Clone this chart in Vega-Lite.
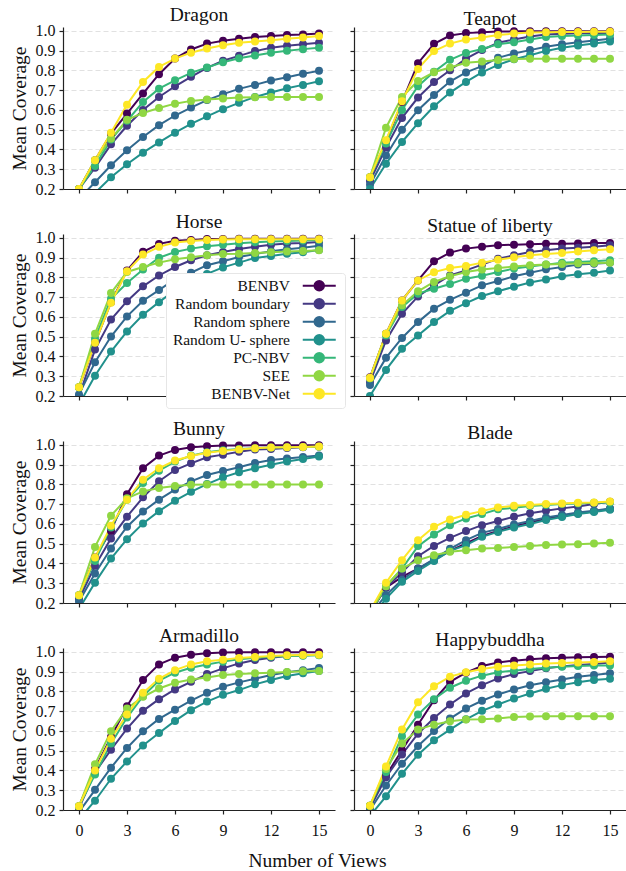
{
"$schema": "https://vega.github.io/schema/vega-lite/v6.json",
"background": "white",
"padding": {"left": 8, "top": 4, "right": 0, "bottom": 0},
"bounds": "flush",
"columns": 2,
"spacing": {"row": 45, "column": 19},
"title": {"text": "Number of Views", "orient": "bottom", "anchor": "middle", "frame": "bounds", "font": "Liberation Serif", "fontSize": 19.5, "fontWeight": "normal", "color": "#111", "offset": 14},
"datasets": {"d": [
{"m":"Dragon","s":"BENBV","x":0,"y":0.2},{"m":"Dragon","s":"BENBV","x":1,"y":0.345},{"m":"Dragon","s":"BENBV","x":2,"y":0.48},{"m":"Dragon","s":"BENBV","x":3,"y":0.582},{"m":"Dragon","s":"BENBV","x":4,"y":0.683},{"m":"Dragon","s":"BENBV","x":5,"y":0.781},{"m":"Dragon","s":"BENBV","x":6,"y":0.86},{"m":"Dragon","s":"BENBV","x":7,"y":0.906},{"m":"Dragon","s":"BENBV","x":8,"y":0.936},{"m":"Dragon","s":"BENBV","x":9,"y":0.95},{"m":"Dragon","s":"BENBV","x":10,"y":0.96},{"m":"Dragon","s":"BENBV","x":11,"y":0.969},{"m":"Dragon","s":"BENBV","x":12,"y":0.974},{"m":"Dragon","s":"BENBV","x":13,"y":0.979},{"m":"Dragon","s":"BENBV","x":14,"y":0.982},{"m":"Dragon","s":"BENBV","x":15,"y":0.987},
{"m":"Dragon","s":"Random boundary","x":0,"y":0.2},{"m":"Dragon","s":"Random boundary","x":1,"y":0.308},{"m":"Dragon","s":"Random boundary","x":2,"y":0.426},{"m":"Dragon","s":"Random boundary","x":3,"y":0.52},{"m":"Dragon","s":"Random boundary","x":4,"y":0.6},{"m":"Dragon","s":"Random boundary","x":5,"y":0.666},{"m":"Dragon","s":"Random boundary","x":6,"y":0.72},{"m":"Dragon","s":"Random boundary","x":7,"y":0.768},{"m":"Dragon","s":"Random boundary","x":8,"y":0.813},{"m":"Dragon","s":"Random boundary","x":9,"y":0.849},{"m":"Dragon","s":"Random boundary","x":10,"y":0.874},{"m":"Dragon","s":"Random boundary","x":11,"y":0.898},{"m":"Dragon","s":"Random boundary","x":12,"y":0.915},{"m":"Dragon","s":"Random boundary","x":13,"y":0.925},{"m":"Dragon","s":"Random boundary","x":14,"y":0.933},{"m":"Dragon","s":"Random boundary","x":15,"y":0.94},
{"m":"Dragon","s":"Random sphere","x":0,"y":0.15},{"m":"Dragon","s":"Random sphere","x":1,"y":0.234},{"m":"Dragon","s":"Random sphere","x":2,"y":0.32},{"m":"Dragon","s":"Random sphere","x":3,"y":0.396},{"m":"Dragon","s":"Random sphere","x":4,"y":0.463},{"m":"Dragon","s":"Random sphere","x":5,"y":0.523},{"m":"Dragon","s":"Random sphere","x":6,"y":0.572},{"m":"Dragon","s":"Random sphere","x":7,"y":0.612},{"m":"Dragon","s":"Random sphere","x":8,"y":0.65},{"m":"Dragon","s":"Random sphere","x":9,"y":0.68},{"m":"Dragon","s":"Random sphere","x":10,"y":0.707},{"m":"Dragon","s":"Random sphere","x":11,"y":0.727},{"m":"Dragon","s":"Random sphere","x":12,"y":0.749},{"m":"Dragon","s":"Random sphere","x":13,"y":0.766},{"m":"Dragon","s":"Random sphere","x":14,"y":0.783},{"m":"Dragon","s":"Random sphere","x":15,"y":0.798},
{"m":"Dragon","s":"Random U- sphere","x":0,"y":0.1},{"m":"Dragon","s":"Random U- sphere","x":1,"y":0.18},{"m":"Dragon","s":"Random U- sphere","x":2,"y":0.259},{"m":"Dragon","s":"Random U- sphere","x":3,"y":0.325},{"m":"Dragon","s":"Random U- sphere","x":4,"y":0.384},{"m":"Dragon","s":"Random U- sphere","x":5,"y":0.436},{"m":"Dragon","s":"Random U- sphere","x":6,"y":0.485},{"m":"Dragon","s":"Random U- sphere","x":7,"y":0.53},{"m":"Dragon","s":"Random U- sphere","x":8,"y":0.568},{"m":"Dragon","s":"Random U- sphere","x":9,"y":0.604},{"m":"Dragon","s":"Random U- sphere","x":10,"y":0.636},{"m":"Dragon","s":"Random U- sphere","x":11,"y":0.666},{"m":"Dragon","s":"Random U- sphere","x":12,"y":0.688},{"m":"Dragon","s":"Random U- sphere","x":13,"y":0.71},{"m":"Dragon","s":"Random U- sphere","x":14,"y":0.727},{"m":"Dragon","s":"Random U- sphere","x":15,"y":0.745},
{"m":"Dragon","s":"PC-NBV","x":0,"y":0.2},{"m":"Dragon","s":"PC-NBV","x":1,"y":0.317},{"m":"Dragon","s":"PC-NBV","x":2,"y":0.45},{"m":"Dragon","s":"PC-NBV","x":3,"y":0.545},{"m":"Dragon","s":"PC-NBV","x":4,"y":0.64},{"m":"Dragon","s":"PC-NBV","x":5,"y":0.708},{"m":"Dragon","s":"PC-NBV","x":6,"y":0.75},{"m":"Dragon","s":"PC-NBV","x":7,"y":0.788},{"m":"Dragon","s":"PC-NBV","x":8,"y":0.815},{"m":"Dragon","s":"PC-NBV","x":9,"y":0.842},{"m":"Dragon","s":"PC-NBV","x":10,"y":0.862},{"m":"Dragon","s":"PC-NBV","x":11,"y":0.876},{"m":"Dragon","s":"PC-NBV","x":12,"y":0.89},{"m":"Dragon","s":"PC-NBV","x":13,"y":0.9},{"m":"Dragon","s":"PC-NBV","x":14,"y":0.908},{"m":"Dragon","s":"PC-NBV","x":15,"y":0.915},
{"m":"Dragon","s":"SEE","x":0,"y":0.2},{"m":"Dragon","s":"SEE","x":1,"y":0.345},{"m":"Dragon","s":"SEE","x":2,"y":0.455},{"m":"Dragon","s":"SEE","x":3,"y":0.55},{"m":"Dragon","s":"SEE","x":4,"y":0.585},{"m":"Dragon","s":"SEE","x":5,"y":0.61},{"m":"Dragon","s":"SEE","x":6,"y":0.632},{"m":"Dragon","s":"SEE","x":7,"y":0.646},{"m":"Dragon","s":"SEE","x":8,"y":0.653},{"m":"Dragon","s":"SEE","x":9,"y":0.658},{"m":"Dragon","s":"SEE","x":10,"y":0.663},{"m":"Dragon","s":"SEE","x":11,"y":0.665},{"m":"Dragon","s":"SEE","x":12,"y":0.666},{"m":"Dragon","s":"SEE","x":13,"y":0.666},{"m":"Dragon","s":"SEE","x":14,"y":0.666},{"m":"Dragon","s":"SEE","x":15,"y":0.666},
{"m":"Dragon","s":"BENBV-Net","x":0,"y":0.2},{"m":"Dragon","s":"BENBV-Net","x":1,"y":0.345},{"m":"Dragon","s":"BENBV-Net","x":2,"y":0.485},{"m":"Dragon","s":"BENBV-Net","x":3,"y":0.627},{"m":"Dragon","s":"BENBV-Net","x":4,"y":0.742},{"m":"Dragon","s":"BENBV-Net","x":5,"y":0.818},{"m":"Dragon","s":"BENBV-Net","x":6,"y":0.86},{"m":"Dragon","s":"BENBV-Net","x":7,"y":0.89},{"m":"Dragon","s":"BENBV-Net","x":8,"y":0.911},{"m":"Dragon","s":"BENBV-Net","x":9,"y":0.928},{"m":"Dragon","s":"BENBV-Net","x":10,"y":0.94},{"m":"Dragon","s":"BENBV-Net","x":11,"y":0.947},{"m":"Dragon","s":"BENBV-Net","x":12,"y":0.953},{"m":"Dragon","s":"BENBV-Net","x":13,"y":0.96},{"m":"Dragon","s":"BENBV-Net","x":14,"y":0.967},{"m":"Dragon","s":"BENBV-Net","x":15,"y":0.974},

{"m":"Teapot","s":"BENBV","x":0,"y":0.26},{"m":"Teapot","s":"BENBV","x":1,"y":0.44},{"m":"Teapot","s":"BENBV","x":2,"y":0.64},{"m":"Teapot","s":"BENBV","x":3,"y":0.837},{"m":"Teapot","s":"BENBV","x":4,"y":0.935},{"m":"Teapot","s":"BENBV","x":5,"y":0.977},{"m":"Teapot","s":"BENBV","x":6,"y":0.989},{"m":"Teapot","s":"BENBV","x":7,"y":0.994},{"m":"Teapot","s":"BENBV","x":8,"y":0.997},{"m":"Teapot","s":"BENBV","x":9,"y":0.998},{"m":"Teapot","s":"BENBV","x":10,"y":0.998},{"m":"Teapot","s":"BENBV","x":11,"y":0.998},{"m":"Teapot","s":"BENBV","x":12,"y":0.999},{"m":"Teapot","s":"BENBV","x":13,"y":0.999},{"m":"Teapot","s":"BENBV","x":14,"y":0.999},{"m":"Teapot","s":"BENBV","x":15,"y":0.999},
{"m":"Teapot","s":"Random boundary","x":0,"y":0.24},{"m":"Teapot","s":"Random boundary","x":1,"y":0.41},{"m":"Teapot","s":"Random boundary","x":2,"y":0.56},{"m":"Teapot","s":"Random boundary","x":3,"y":0.663},{"m":"Teapot","s":"Random boundary","x":4,"y":0.742},{"m":"Teapot","s":"Random boundary","x":5,"y":0.801},{"m":"Teapot","s":"Random boundary","x":6,"y":0.86},{"m":"Teapot","s":"Random boundary","x":7,"y":0.903},{"m":"Teapot","s":"Random boundary","x":8,"y":0.94},{"m":"Teapot","s":"Random boundary","x":9,"y":0.957},{"m":"Teapot","s":"Random boundary","x":10,"y":0.972},{"m":"Teapot","s":"Random boundary","x":11,"y":0.982},{"m":"Teapot","s":"Random boundary","x":12,"y":0.986},{"m":"Teapot","s":"Random boundary","x":13,"y":0.988},{"m":"Teapot","s":"Random boundary","x":14,"y":0.99},{"m":"Teapot","s":"Random boundary","x":15,"y":0.99},
{"m":"Teapot","s":"Random sphere","x":0,"y":0.222},{"m":"Teapot","s":"Random sphere","x":1,"y":0.37},{"m":"Teapot","s":"Random sphere","x":2,"y":0.5},{"m":"Teapot","s":"Random sphere","x":3,"y":0.599},{"m":"Teapot","s":"Random sphere","x":4,"y":0.676},{"m":"Teapot","s":"Random sphere","x":5,"y":0.744},{"m":"Teapot","s":"Random sphere","x":6,"y":0.79},{"m":"Teapot","s":"Random sphere","x":7,"y":0.822},{"m":"Teapot","s":"Random sphere","x":8,"y":0.864},{"m":"Teapot","s":"Random sphere","x":9,"y":0.886},{"m":"Teapot","s":"Random sphere","x":10,"y":0.903},{"m":"Teapot","s":"Random sphere","x":11,"y":0.92},{"m":"Teapot","s":"Random sphere","x":12,"y":0.933},{"m":"Teapot","s":"Random sphere","x":13,"y":0.943},{"m":"Teapot","s":"Random sphere","x":14,"y":0.952},{"m":"Teapot","s":"Random sphere","x":15,"y":0.96},
{"m":"Teapot","s":"Random U- sphere","x":0,"y":0.2},{"m":"Teapot","s":"Random U- sphere","x":1,"y":0.328},{"m":"Teapot","s":"Random U- sphere","x":2,"y":0.438},{"m":"Teapot","s":"Random U- sphere","x":3,"y":0.533},{"m":"Teapot","s":"Random U- sphere","x":4,"y":0.619},{"m":"Teapot","s":"Random U- sphere","x":5,"y":0.688},{"m":"Teapot","s":"Random U- sphere","x":6,"y":0.742},{"m":"Teapot","s":"Random U- sphere","x":7,"y":0.79},{"m":"Teapot","s":"Random U- sphere","x":8,"y":0.828},{"m":"Teapot","s":"Random U- sphere","x":9,"y":0.857},{"m":"Teapot","s":"Random U- sphere","x":10,"y":0.877},{"m":"Teapot","s":"Random U- sphere","x":11,"y":0.899},{"m":"Teapot","s":"Random U- sphere","x":12,"y":0.915},{"m":"Teapot","s":"Random U- sphere","x":13,"y":0.926},{"m":"Teapot","s":"Random U- sphere","x":14,"y":0.936},{"m":"Teapot","s":"Random U- sphere","x":15,"y":0.947},
{"m":"Teapot","s":"PC-NBV","x":0,"y":0.26},{"m":"Teapot","s":"PC-NBV","x":1,"y":0.43},{"m":"Teapot","s":"PC-NBV","x":2,"y":0.6},{"m":"Teapot","s":"PC-NBV","x":3,"y":0.72},{"m":"Teapot","s":"PC-NBV","x":4,"y":0.793},{"m":"Teapot","s":"PC-NBV","x":5,"y":0.854},{"m":"Teapot","s":"PC-NBV","x":6,"y":0.889},{"m":"Teapot","s":"PC-NBV","x":7,"y":0.909},{"m":"Teapot","s":"PC-NBV","x":8,"y":0.933},{"m":"Teapot","s":"PC-NBV","x":9,"y":0.943},{"m":"Teapot","s":"PC-NBV","x":10,"y":0.957},{"m":"Teapot","s":"PC-NBV","x":11,"y":0.969},{"m":"Teapot","s":"PC-NBV","x":12,"y":0.974},{"m":"Teapot","s":"PC-NBV","x":13,"y":0.977},{"m":"Teapot","s":"PC-NBV","x":14,"y":0.98},{"m":"Teapot","s":"PC-NBV","x":15,"y":0.982},
{"m":"Teapot","s":"SEE","x":0,"y":0.26},{"m":"Teapot","s":"SEE","x":1,"y":0.51},{"m":"Teapot","s":"SEE","x":2,"y":0.666},{"m":"Teapot","s":"SEE","x":3,"y":0.747},{"m":"Teapot","s":"SEE","x":4,"y":0.791},{"m":"Teapot","s":"SEE","x":5,"y":0.815},{"m":"Teapot","s":"SEE","x":6,"y":0.839},{"m":"Teapot","s":"SEE","x":7,"y":0.845},{"m":"Teapot","s":"SEE","x":8,"y":0.853},{"m":"Teapot","s":"SEE","x":9,"y":0.858},{"m":"Teapot","s":"SEE","x":10,"y":0.859},{"m":"Teapot","s":"SEE","x":11,"y":0.859},{"m":"Teapot","s":"SEE","x":12,"y":0.859},{"m":"Teapot","s":"SEE","x":13,"y":0.859},{"m":"Teapot","s":"SEE","x":14,"y":0.859},{"m":"Teapot","s":"SEE","x":15,"y":0.859},
{"m":"Teapot","s":"BENBV-Net","x":0,"y":0.26},{"m":"Teapot","s":"BENBV-Net","x":1,"y":0.447},{"m":"Teapot","s":"BENBV-Net","x":2,"y":0.644},{"m":"Teapot","s":"BENBV-Net","x":3,"y":0.808},{"m":"Teapot","s":"BENBV-Net","x":4,"y":0.898},{"m":"Teapot","s":"BENBV-Net","x":5,"y":0.936},{"m":"Teapot","s":"BENBV-Net","x":6,"y":0.957},{"m":"Teapot","s":"BENBV-Net","x":7,"y":0.967},{"m":"Teapot","s":"BENBV-Net","x":8,"y":0.979},{"m":"Teapot","s":"BENBV-Net","x":9,"y":0.987},{"m":"Teapot","s":"BENBV-Net","x":10,"y":0.992},{"m":"Teapot","s":"BENBV-Net","x":11,"y":0.994},{"m":"Teapot","s":"BENBV-Net","x":12,"y":0.995},{"m":"Teapot","s":"BENBV-Net","x":13,"y":0.995},{"m":"Teapot","s":"BENBV-Net","x":14,"y":0.996},{"m":"Teapot","s":"BENBV-Net","x":15,"y":0.996},

{"m":"Horse","s":"BENBV","x":0,"y":0.244},{"m":"Horse","s":"BENBV","x":1,"y":0.469},{"m":"Horse","s":"BENBV","x":2,"y":0.675},{"m":"Horse","s":"BENBV","x":3,"y":0.835},{"m":"Horse","s":"BENBV","x":4,"y":0.93},{"m":"Horse","s":"BENBV","x":5,"y":0.97},{"m":"Horse","s":"BENBV","x":6,"y":0.986},{"m":"Horse","s":"BENBV","x":7,"y":0.99},{"m":"Horse","s":"BENBV","x":8,"y":0.995},{"m":"Horse","s":"BENBV","x":9,"y":0.995},{"m":"Horse","s":"BENBV","x":10,"y":0.996},{"m":"Horse","s":"BENBV","x":11,"y":0.996},{"m":"Horse","s":"BENBV","x":12,"y":0.996},{"m":"Horse","s":"BENBV","x":13,"y":0.996},{"m":"Horse","s":"BENBV","x":14,"y":0.996},{"m":"Horse","s":"BENBV","x":15,"y":0.996},
{"m":"Horse","s":"Random boundary","x":0,"y":0.2},{"m":"Horse","s":"Random boundary","x":1,"y":0.435},{"m":"Horse","s":"Random boundary","x":2,"y":0.587},{"m":"Horse","s":"Random boundary","x":3,"y":0.68},{"m":"Horse","s":"Random boundary","x":4,"y":0.755},{"m":"Horse","s":"Random boundary","x":5,"y":0.81},{"m":"Horse","s":"Random boundary","x":6,"y":0.853},{"m":"Horse","s":"Random boundary","x":7,"y":0.887},{"m":"Horse","s":"Random boundary","x":8,"y":0.912},{"m":"Horse","s":"Random boundary","x":9,"y":0.929},{"m":"Horse","s":"Random boundary","x":10,"y":0.944},{"m":"Horse","s":"Random boundary","x":11,"y":0.956},{"m":"Horse","s":"Random boundary","x":12,"y":0.965},{"m":"Horse","s":"Random boundary","x":13,"y":0.972},{"m":"Horse","s":"Random boundary","x":14,"y":0.975},{"m":"Horse","s":"Random boundary","x":15,"y":0.98},
{"m":"Horse","s":"Random sphere","x":0,"y":0.208},{"m":"Horse","s":"Random sphere","x":1,"y":0.371},{"m":"Horse","s":"Random sphere","x":2,"y":0.501},{"m":"Horse","s":"Random sphere","x":3,"y":0.603},{"m":"Horse","s":"Random sphere","x":4,"y":0.682},{"m":"Horse","s":"Random sphere","x":5,"y":0.736},{"m":"Horse","s":"Random sphere","x":6,"y":0.792},{"m":"Horse","s":"Random sphere","x":7,"y":0.824},{"m":"Horse","s":"Random sphere","x":8,"y":0.862},{"m":"Horse","s":"Random sphere","x":9,"y":0.882},{"m":"Horse","s":"Random sphere","x":10,"y":0.904},{"m":"Horse","s":"Random sphere","x":11,"y":0.919},{"m":"Horse","s":"Random sphere","x":12,"y":0.933},{"m":"Horse","s":"Random sphere","x":13,"y":0.943},{"m":"Horse","s":"Random sphere","x":14,"y":0.95},{"m":"Horse","s":"Random sphere","x":15,"y":0.96},
{"m":"Horse","s":"Random U- sphere","x":0,"y":0.156},{"m":"Horse","s":"Random U- sphere","x":1,"y":0.303},{"m":"Horse","s":"Random U- sphere","x":2,"y":0.425},{"m":"Horse","s":"Random U- sphere","x":3,"y":0.527},{"m":"Horse","s":"Random U- sphere","x":4,"y":0.611},{"m":"Horse","s":"Random U- sphere","x":5,"y":0.675},{"m":"Horse","s":"Random U- sphere","x":6,"y":0.736},{"m":"Horse","s":"Random U- sphere","x":7,"y":0.779},{"m":"Horse","s":"Random U- sphere","x":8,"y":0.818},{"m":"Horse","s":"Random U- sphere","x":9,"y":0.851},{"m":"Horse","s":"Random U- sphere","x":10,"y":0.875},{"m":"Horse","s":"Random U- sphere","x":11,"y":0.899},{"m":"Horse","s":"Random U- sphere","x":12,"y":0.909},{"m":"Horse","s":"Random U- sphere","x":13,"y":0.92},{"m":"Horse","s":"Random U- sphere","x":14,"y":0.928},{"m":"Horse","s":"Random U- sphere","x":15,"y":0.939},
{"m":"Horse","s":"PC-NBV","x":0,"y":0.244},{"m":"Horse","s":"PC-NBV","x":1,"y":0.49},{"m":"Horse","s":"PC-NBV","x":2,"y":0.692},{"m":"Horse","s":"PC-NBV","x":3,"y":0.772},{"m":"Horse","s":"PC-NBV","x":4,"y":0.84},{"m":"Horse","s":"PC-NBV","x":5,"y":0.9},{"m":"Horse","s":"PC-NBV","x":6,"y":0.929},{"m":"Horse","s":"PC-NBV","x":7,"y":0.946},{"m":"Horse","s":"PC-NBV","x":8,"y":0.958},{"m":"Horse","s":"PC-NBV","x":9,"y":0.966},{"m":"Horse","s":"PC-NBV","x":10,"y":0.973},{"m":"Horse","s":"PC-NBV","x":11,"y":0.978},{"m":"Horse","s":"PC-NBV","x":12,"y":0.982},{"m":"Horse","s":"PC-NBV","x":13,"y":0.985},{"m":"Horse","s":"PC-NBV","x":14,"y":0.987},{"m":"Horse","s":"PC-NBV","x":15,"y":0.989},
{"m":"Horse","s":"SEE","x":0,"y":0.244},{"m":"Horse","s":"SEE","x":1,"y":0.515},{"m":"Horse","s":"SEE","x":2,"y":0.721},{"m":"Horse","s":"SEE","x":3,"y":0.828},{"m":"Horse","s":"SEE","x":4,"y":0.853},{"m":"Horse","s":"SEE","x":5,"y":0.875},{"m":"Horse","s":"SEE","x":6,"y":0.892},{"m":"Horse","s":"SEE","x":7,"y":0.902},{"m":"Horse","s":"SEE","x":8,"y":0.912},{"m":"Horse","s":"SEE","x":9,"y":0.919},{"m":"Horse","s":"SEE","x":10,"y":0.92},{"m":"Horse","s":"SEE","x":11,"y":0.924},{"m":"Horse","s":"SEE","x":12,"y":0.928},{"m":"Horse","s":"SEE","x":13,"y":0.931},{"m":"Horse","s":"SEE","x":14,"y":0.934},{"m":"Horse","s":"SEE","x":15,"y":0.938},
{"m":"Horse","s":"BENBV-Net","x":0,"y":0.244},{"m":"Horse","s":"BENBV-Net","x":1,"y":0.469},{"m":"Horse","s":"BENBV-Net","x":2,"y":0.672},{"m":"Horse","s":"BENBV-Net","x":3,"y":0.831},{"m":"Horse","s":"BENBV-Net","x":4,"y":0.916},{"m":"Horse","s":"BENBV-Net","x":5,"y":0.955},{"m":"Horse","s":"BENBV-Net","x":6,"y":0.977},{"m":"Horse","s":"BENBV-Net","x":7,"y":0.985},{"m":"Horse","s":"BENBV-Net","x":8,"y":0.99},{"m":"Horse","s":"BENBV-Net","x":9,"y":0.992},{"m":"Horse","s":"BENBV-Net","x":10,"y":0.994},{"m":"Horse","s":"BENBV-Net","x":11,"y":0.994},{"m":"Horse","s":"BENBV-Net","x":12,"y":0.994},{"m":"Horse","s":"BENBV-Net","x":13,"y":0.994},{"m":"Horse","s":"BENBV-Net","x":14,"y":0.994},{"m":"Horse","s":"BENBV-Net","x":15,"y":0.994},

{"m":"Statue of liberty","s":"BENBV","x":0,"y":0.295},{"m":"Statue of liberty","s":"BENBV","x":1,"y":0.515},{"m":"Statue of liberty","s":"BENBV","x":2,"y":0.684},{"m":"Statue of liberty","s":"BENBV","x":3,"y":0.785},{"m":"Statue of liberty","s":"BENBV","x":4,"y":0.882},{"m":"Statue of liberty","s":"BENBV","x":5,"y":0.926},{"m":"Statue of liberty","s":"BENBV","x":6,"y":0.946},{"m":"Statue of liberty","s":"BENBV","x":7,"y":0.955},{"m":"Statue of liberty","s":"BENBV","x":8,"y":0.963},{"m":"Statue of liberty","s":"BENBV","x":9,"y":0.966},{"m":"Statue of liberty","s":"BENBV","x":10,"y":0.968},{"m":"Statue of liberty","s":"BENBV","x":11,"y":0.971},{"m":"Statue of liberty","s":"BENBV","x":12,"y":0.971},{"m":"Statue of liberty","s":"BENBV","x":13,"y":0.972},{"m":"Statue of liberty","s":"BENBV","x":14,"y":0.974},{"m":"Statue of liberty","s":"BENBV","x":15,"y":0.975},
{"m":"Statue of liberty","s":"Random boundary","x":0,"y":0.27},{"m":"Statue of liberty","s":"Random boundary","x":1,"y":0.481},{"m":"Statue of liberty","s":"Random boundary","x":2,"y":0.616},{"m":"Statue of liberty","s":"Random boundary","x":3,"y":0.704},{"m":"Statue of liberty","s":"Random boundary","x":4,"y":0.76},{"m":"Statue of liberty","s":"Random boundary","x":5,"y":0.81},{"m":"Statue of liberty","s":"Random boundary","x":6,"y":0.836},{"m":"Statue of liberty","s":"Random boundary","x":7,"y":0.865},{"m":"Statue of liberty","s":"Random boundary","x":8,"y":0.895},{"m":"Statue of liberty","s":"Random boundary","x":9,"y":0.912},{"m":"Statue of liberty","s":"Random boundary","x":10,"y":0.929},{"m":"Statue of liberty","s":"Random boundary","x":11,"y":0.938},{"m":"Statue of liberty","s":"Random boundary","x":12,"y":0.946},{"m":"Statue of liberty","s":"Random boundary","x":13,"y":0.951},{"m":"Statue of liberty","s":"Random boundary","x":14,"y":0.956},{"m":"Statue of liberty","s":"Random boundary","x":15,"y":0.963},
{"m":"Statue of liberty","s":"Random sphere","x":0,"y":0.256},{"m":"Statue of liberty","s":"Random sphere","x":1,"y":0.393},{"m":"Statue of liberty","s":"Random sphere","x":2,"y":0.494},{"m":"Statue of liberty","s":"Random sphere","x":3,"y":0.574},{"m":"Statue of liberty","s":"Random sphere","x":4,"y":0.642},{"m":"Statue of liberty","s":"Random sphere","x":5,"y":0.687},{"m":"Statue of liberty","s":"Random sphere","x":6,"y":0.723},{"m":"Statue of liberty","s":"Random sphere","x":7,"y":0.76},{"m":"Statue of liberty","s":"Random sphere","x":8,"y":0.782},{"m":"Statue of liberty","s":"Random sphere","x":9,"y":0.806},{"m":"Statue of liberty","s":"Random sphere","x":10,"y":0.824},{"m":"Statue of liberty","s":"Random sphere","x":11,"y":0.841},{"m":"Statue of liberty","s":"Random sphere","x":12,"y":0.853},{"m":"Statue of liberty","s":"Random sphere","x":13,"y":0.865},{"m":"Statue of liberty","s":"Random sphere","x":14,"y":0.87},{"m":"Statue of liberty","s":"Random sphere","x":15,"y":0.875},
{"m":"Statue of liberty","s":"Random U- sphere","x":0,"y":0.2},{"m":"Statue of liberty","s":"Random U- sphere","x":1,"y":0.332},{"m":"Statue of liberty","s":"Random U- sphere","x":2,"y":0.439},{"m":"Statue of liberty","s":"Random U- sphere","x":3,"y":0.506},{"m":"Statue of liberty","s":"Random U- sphere","x":4,"y":0.574},{"m":"Statue of liberty","s":"Random U- sphere","x":5,"y":0.631},{"m":"Statue of liberty","s":"Random U- sphere","x":6,"y":0.67},{"m":"Statue of liberty","s":"Random U- sphere","x":7,"y":0.706},{"m":"Statue of liberty","s":"Random U- sphere","x":8,"y":0.73},{"m":"Statue of liberty","s":"Random U- sphere","x":9,"y":0.753},{"m":"Statue of liberty","s":"Random U- sphere","x":10,"y":0.774},{"m":"Statue of liberty","s":"Random U- sphere","x":11,"y":0.79},{"m":"Statue of liberty","s":"Random U- sphere","x":12,"y":0.806},{"m":"Statue of liberty","s":"Random U- sphere","x":13,"y":0.816},{"m":"Statue of liberty","s":"Random U- sphere","x":14,"y":0.824},{"m":"Statue of liberty","s":"Random U- sphere","x":15,"y":0.835},
{"m":"Statue of liberty","s":"PC-NBV","x":0,"y":0.29},{"m":"Statue of liberty","s":"PC-NBV","x":1,"y":0.506},{"m":"Statue of liberty","s":"PC-NBV","x":2,"y":0.65},{"m":"Statue of liberty","s":"PC-NBV","x":3,"y":0.718},{"m":"Statue of liberty","s":"PC-NBV","x":4,"y":0.743},{"m":"Statue of liberty","s":"PC-NBV","x":5,"y":0.767},{"m":"Statue of liberty","s":"PC-NBV","x":6,"y":0.794},{"m":"Statue of liberty","s":"PC-NBV","x":7,"y":0.809},{"m":"Statue of liberty","s":"PC-NBV","x":8,"y":0.828},{"m":"Statue of liberty","s":"PC-NBV","x":9,"y":0.845},{"m":"Statue of liberty","s":"PC-NBV","x":10,"y":0.855},{"m":"Statue of liberty","s":"PC-NBV","x":11,"y":0.865},{"m":"Statue of liberty","s":"PC-NBV","x":12,"y":0.875},{"m":"Statue of liberty","s":"PC-NBV","x":13,"y":0.878},{"m":"Statue of liberty","s":"PC-NBV","x":14,"y":0.882},{"m":"Statue of liberty","s":"PC-NBV","x":15,"y":0.887},
{"m":"Statue of liberty","s":"SEE","x":0,"y":0.29},{"m":"Statue of liberty","s":"SEE","x":1,"y":0.515},{"m":"Statue of liberty","s":"SEE","x":2,"y":0.659},{"m":"Statue of liberty","s":"SEE","x":3,"y":0.73},{"m":"Statue of liberty","s":"SEE","x":4,"y":0.777},{"m":"Statue of liberty","s":"SEE","x":5,"y":0.806},{"m":"Statue of liberty","s":"SEE","x":6,"y":0.828},{"m":"Statue of liberty","s":"SEE","x":7,"y":0.84},{"m":"Statue of liberty","s":"SEE","x":8,"y":0.848},{"m":"Statue of liberty","s":"SEE","x":9,"y":0.855},{"m":"Statue of liberty","s":"SEE","x":10,"y":0.862},{"m":"Statue of liberty","s":"SEE","x":11,"y":0.865},{"m":"Statue of liberty","s":"SEE","x":12,"y":0.868},{"m":"Statue of liberty","s":"SEE","x":13,"y":0.872},{"m":"Statue of liberty","s":"SEE","x":14,"y":0.873},{"m":"Statue of liberty","s":"SEE","x":15,"y":0.875},
{"m":"Statue of liberty","s":"BENBV-Net","x":0,"y":0.293},{"m":"Statue of liberty","s":"BENBV-Net","x":1,"y":0.515},{"m":"Statue of liberty","s":"BENBV-Net","x":2,"y":0.684},{"m":"Statue of liberty","s":"BENBV-Net","x":3,"y":0.785},{"m":"Statue of liberty","s":"BENBV-Net","x":4,"y":0.827},{"m":"Statue of liberty","s":"BENBV-Net","x":5,"y":0.848},{"m":"Statue of liberty","s":"BENBV-Net","x":6,"y":0.858},{"m":"Statue of liberty","s":"BENBV-Net","x":7,"y":0.875},{"m":"Statue of liberty","s":"BENBV-Net","x":8,"y":0.89},{"m":"Statue of liberty","s":"BENBV-Net","x":9,"y":0.902},{"m":"Statue of liberty","s":"BENBV-Net","x":10,"y":0.912},{"m":"Statue of liberty","s":"BENBV-Net","x":11,"y":0.919},{"m":"Statue of liberty","s":"BENBV-Net","x":12,"y":0.924},{"m":"Statue of liberty","s":"BENBV-Net","x":13,"y":0.932},{"m":"Statue of liberty","s":"BENBV-Net","x":14,"y":0.938},{"m":"Statue of liberty","s":"BENBV-Net","x":15,"y":0.943},

{"m":"Bunny","s":"BENBV","x":0,"y":0.239},{"m":"Bunny","s":"BENBV","x":1,"y":0.43},{"m":"Bunny","s":"BENBV","x":2,"y":0.565},{"m":"Bunny","s":"BENBV","x":3,"y":0.751},{"m":"Bunny","s":"BENBV","x":4,"y":0.882},{"m":"Bunny","s":"BENBV","x":5,"y":0.946},{"m":"Bunny","s":"BENBV","x":6,"y":0.975},{"m":"Bunny","s":"BENBV","x":7,"y":0.988},{"m":"Bunny","s":"BENBV","x":8,"y":0.993},{"m":"Bunny","s":"BENBV","x":9,"y":0.997},{"m":"Bunny","s":"BENBV","x":10,"y":0.997},{"m":"Bunny","s":"BENBV","x":11,"y":0.998},{"m":"Bunny","s":"BENBV","x":12,"y":0.998},{"m":"Bunny","s":"BENBV","x":13,"y":0.998},{"m":"Bunny","s":"BENBV","x":14,"y":0.998},{"m":"Bunny","s":"BENBV","x":15,"y":0.998},
{"m":"Bunny","s":"Random boundary","x":0,"y":0.22},{"m":"Bunny","s":"Random boundary","x":1,"y":0.388},{"m":"Bunny","s":"Random boundary","x":2,"y":0.527},{"m":"Bunny","s":"Random boundary","x":3,"y":0.637},{"m":"Bunny","s":"Random boundary","x":4,"y":0.735},{"m":"Bunny","s":"Random boundary","x":5,"y":0.816},{"m":"Bunny","s":"Random boundary","x":6,"y":0.873},{"m":"Bunny","s":"Random boundary","x":7,"y":0.907},{"m":"Bunny","s":"Random boundary","x":8,"y":0.938},{"m":"Bunny","s":"Random boundary","x":9,"y":0.951},{"m":"Bunny","s":"Random boundary","x":10,"y":0.966},{"m":"Bunny","s":"Random boundary","x":11,"y":0.977},{"m":"Bunny","s":"Random boundary","x":12,"y":0.98},{"m":"Bunny","s":"Random boundary","x":13,"y":0.985},{"m":"Bunny","s":"Random boundary","x":14,"y":0.988},{"m":"Bunny","s":"Random boundary","x":15,"y":0.992},
{"m":"Bunny","s":"Random sphere","x":0,"y":0.208},{"m":"Bunny","s":"Random sphere","x":1,"y":0.349},{"m":"Bunny","s":"Random sphere","x":2,"y":0.476},{"m":"Bunny","s":"Random sphere","x":3,"y":0.586},{"m":"Bunny","s":"Random sphere","x":4,"y":0.663},{"m":"Bunny","s":"Random sphere","x":5,"y":0.723},{"m":"Bunny","s":"Random sphere","x":6,"y":0.774},{"m":"Bunny","s":"Random sphere","x":7,"y":0.816},{"m":"Bunny","s":"Random sphere","x":8,"y":0.848},{"m":"Bunny","s":"Random sphere","x":9,"y":0.868},{"m":"Bunny","s":"Random sphere","x":10,"y":0.887},{"m":"Bunny","s":"Random sphere","x":11,"y":0.909},{"m":"Bunny","s":"Random sphere","x":12,"y":0.924},{"m":"Bunny","s":"Random sphere","x":13,"y":0.932},{"m":"Bunny","s":"Random sphere","x":14,"y":0.939},{"m":"Bunny","s":"Random sphere","x":15,"y":0.946},
{"m":"Bunny","s":"Random U- sphere","x":0,"y":0.17},{"m":"Bunny","s":"Random U- sphere","x":1,"y":0.303},{"m":"Bunny","s":"Random U- sphere","x":2,"y":0.425},{"m":"Bunny","s":"Random U- sphere","x":3,"y":0.523},{"m":"Bunny","s":"Random U- sphere","x":4,"y":0.603},{"m":"Bunny","s":"Random U- sphere","x":5,"y":0.665},{"m":"Bunny","s":"Random U- sphere","x":6,"y":0.718},{"m":"Bunny","s":"Random U- sphere","x":7,"y":0.763},{"m":"Bunny","s":"Random U- sphere","x":8,"y":0.802},{"m":"Bunny","s":"Random U- sphere","x":9,"y":0.836},{"m":"Bunny","s":"Random U- sphere","x":10,"y":0.862},{"m":"Bunny","s":"Random U- sphere","x":11,"y":0.882},{"m":"Bunny","s":"Random U- sphere","x":12,"y":0.9},{"m":"Bunny","s":"Random U- sphere","x":13,"y":0.916},{"m":"Bunny","s":"Random U- sphere","x":14,"y":0.929},{"m":"Bunny","s":"Random U- sphere","x":15,"y":0.941},
{"m":"Bunny","s":"PC-NBV","x":0,"y":0.239},{"m":"Bunny","s":"PC-NBV","x":1,"y":0.413},{"m":"Bunny","s":"PC-NBV","x":2,"y":0.582},{"m":"Bunny","s":"PC-NBV","x":3,"y":0.723},{"m":"Bunny","s":"PC-NBV","x":4,"y":0.807},{"m":"Bunny","s":"PC-NBV","x":5,"y":0.87},{"m":"Bunny","s":"PC-NBV","x":6,"y":0.916},{"m":"Bunny","s":"PC-NBV","x":7,"y":0.946},{"m":"Bunny","s":"PC-NBV","x":8,"y":0.963},{"m":"Bunny","s":"PC-NBV","x":9,"y":0.973},{"m":"Bunny","s":"PC-NBV","x":10,"y":0.98},{"m":"Bunny","s":"PC-NBV","x":11,"y":0.983},{"m":"Bunny","s":"PC-NBV","x":12,"y":0.987},{"m":"Bunny","s":"PC-NBV","x":13,"y":0.988},{"m":"Bunny","s":"PC-NBV","x":14,"y":0.99},{"m":"Bunny","s":"PC-NBV","x":15,"y":0.991},
{"m":"Bunny","s":"SEE","x":0,"y":0.239},{"m":"Bunny","s":"SEE","x":1,"y":0.484},{"m":"Bunny","s":"SEE","x":2,"y":0.642},{"m":"Bunny","s":"SEE","x":3,"y":0.73},{"m":"Bunny","s":"SEE","x":4,"y":0.765},{"m":"Bunny","s":"SEE","x":5,"y":0.782},{"m":"Bunny","s":"SEE","x":6,"y":0.792},{"m":"Bunny","s":"SEE","x":7,"y":0.799},{"m":"Bunny","s":"SEE","x":8,"y":0.8},{"m":"Bunny","s":"SEE","x":9,"y":0.8},{"m":"Bunny","s":"SEE","x":10,"y":0.8},{"m":"Bunny","s":"SEE","x":11,"y":0.8},{"m":"Bunny","s":"SEE","x":12,"y":0.8},{"m":"Bunny","s":"SEE","x":13,"y":0.8},{"m":"Bunny","s":"SEE","x":14,"y":0.8},{"m":"Bunny","s":"SEE","x":15,"y":0.8},
{"m":"Bunny","s":"BENBV-Net","x":0,"y":0.239},{"m":"Bunny","s":"BENBV-Net","x":1,"y":0.43},{"m":"Bunny","s":"BENBV-Net","x":2,"y":0.591},{"m":"Bunny","s":"BENBV-Net","x":3,"y":0.723},{"m":"Bunny","s":"BENBV-Net","x":4,"y":0.824},{"m":"Bunny","s":"BENBV-Net","x":5,"y":0.882},{"m":"Bunny","s":"BENBV-Net","x":6,"y":0.921},{"m":"Bunny","s":"BENBV-Net","x":7,"y":0.944},{"m":"Bunny","s":"BENBV-Net","x":8,"y":0.96},{"m":"Bunny","s":"BENBV-Net","x":9,"y":0.97},{"m":"Bunny","s":"BENBV-Net","x":10,"y":0.977},{"m":"Bunny","s":"BENBV-Net","x":11,"y":0.983},{"m":"Bunny","s":"BENBV-Net","x":12,"y":0.987},{"m":"Bunny","s":"BENBV-Net","x":13,"y":0.988},{"m":"Bunny","s":"BENBV-Net","x":14,"y":0.99},{"m":"Bunny","s":"BENBV-Net","x":15,"y":0.992},

{"m":"Blade","s":"BENBV","x":0,"y":0.15},{"m":"Blade","s":"BENBV","x":1,"y":0.278},{"m":"Blade","s":"BENBV","x":2,"y":0.332},{"m":"Blade","s":"BENBV","x":3,"y":0.374},{"m":"Blade","s":"BENBV","x":4,"y":0.417},{"m":"Blade","s":"BENBV","x":5,"y":0.464},{"m":"Blade","s":"BENBV","x":6,"y":0.501},{"m":"Blade","s":"BENBV","x":7,"y":0.54},{"m":"Blade","s":"BENBV","x":8,"y":0.565},{"m":"Blade","s":"BENBV","x":9,"y":0.588},{"m":"Blade","s":"BENBV","x":10,"y":0.607},{"m":"Blade","s":"BENBV","x":11,"y":0.625},{"m":"Blade","s":"BENBV","x":12,"y":0.64},{"m":"Blade","s":"BENBV","x":13,"y":0.653},{"m":"Blade","s":"BENBV","x":14,"y":0.664},{"m":"Blade","s":"BENBV","x":15,"y":0.676},
{"m":"Blade","s":"Random boundary","x":0,"y":0.15},{"m":"Blade","s":"Random boundary","x":1,"y":0.278},{"m":"Blade","s":"Random boundary","x":2,"y":0.355},{"m":"Blade","s":"Random boundary","x":3,"y":0.437},{"m":"Blade","s":"Random boundary","x":4,"y":0.489},{"m":"Blade","s":"Random boundary","x":5,"y":0.53},{"m":"Blade","s":"Random boundary","x":6,"y":0.564},{"m":"Blade","s":"Random boundary","x":7,"y":0.594},{"m":"Blade","s":"Random boundary","x":8,"y":0.615},{"m":"Blade","s":"Random boundary","x":9,"y":0.637},{"m":"Blade","s":"Random boundary","x":10,"y":0.654},{"m":"Blade","s":"Random boundary","x":11,"y":0.667},{"m":"Blade","s":"Random boundary","x":12,"y":0.679},{"m":"Blade","s":"Random boundary","x":13,"y":0.688},{"m":"Blade","s":"Random boundary","x":14,"y":0.701},{"m":"Blade","s":"Random boundary","x":15,"y":0.712},
{"m":"Blade","s":"Random sphere","x":0,"y":0.14},{"m":"Blade","s":"Random sphere","x":1,"y":0.24},{"m":"Blade","s":"Random sphere","x":2,"y":0.318},{"m":"Blade","s":"Random sphere","x":3,"y":0.374},{"m":"Blade","s":"Random sphere","x":4,"y":0.422},{"m":"Blade","s":"Random sphere","x":5,"y":0.474},{"m":"Blade","s":"Random sphere","x":6,"y":0.518},{"m":"Blade","s":"Random sphere","x":7,"y":0.555},{"m":"Blade","s":"Random sphere","x":8,"y":0.575},{"m":"Blade","s":"Random sphere","x":9,"y":0.597},{"m":"Blade","s":"Random sphere","x":10,"y":0.615},{"m":"Blade","s":"Random sphere","x":11,"y":0.633},{"m":"Blade","s":"Random sphere","x":12,"y":0.645},{"m":"Blade","s":"Random sphere","x":13,"y":0.658},{"m":"Blade","s":"Random sphere","x":14,"y":0.667},{"m":"Blade","s":"Random sphere","x":15,"y":0.678},
{"m":"Blade","s":"Random U- sphere","x":0,"y":0.12},{"m":"Blade","s":"Random U- sphere","x":1,"y":0.222},{"m":"Blade","s":"Random U- sphere","x":2,"y":0.307},{"m":"Blade","s":"Random U- sphere","x":3,"y":0.362},{"m":"Blade","s":"Random U- sphere","x":4,"y":0.413},{"m":"Blade","s":"Random U- sphere","x":5,"y":0.464},{"m":"Blade","s":"Random U- sphere","x":6,"y":0.493},{"m":"Blade","s":"Random U- sphere","x":7,"y":0.535},{"m":"Blade","s":"Random U- sphere","x":8,"y":0.56},{"m":"Blade","s":"Random U- sphere","x":9,"y":0.582},{"m":"Blade","s":"Random U- sphere","x":10,"y":0.6},{"m":"Blade","s":"Random U- sphere","x":11,"y":0.62},{"m":"Blade","s":"Random U- sphere","x":12,"y":0.635},{"m":"Blade","s":"Random U- sphere","x":13,"y":0.65},{"m":"Blade","s":"Random U- sphere","x":14,"y":0.66},{"m":"Blade","s":"Random U- sphere","x":15,"y":0.672},
{"m":"Blade","s":"PC-NBV","x":0,"y":0.15},{"m":"Blade","s":"PC-NBV","x":1,"y":0.285},{"m":"Blade","s":"PC-NBV","x":2,"y":0.374},{"m":"Blade","s":"PC-NBV","x":3,"y":0.488},{"m":"Blade","s":"PC-NBV","x":4,"y":0.547},{"m":"Blade","s":"PC-NBV","x":5,"y":0.594},{"m":"Blade","s":"PC-NBV","x":6,"y":0.628},{"m":"Blade","s":"PC-NBV","x":7,"y":0.65},{"m":"Blade","s":"PC-NBV","x":8,"y":0.674},{"m":"Blade","s":"PC-NBV","x":9,"y":0.682},{"m":"Blade","s":"PC-NBV","x":10,"y":0.691},{"m":"Blade","s":"PC-NBV","x":11,"y":0.696},{"m":"Blade","s":"PC-NBV","x":12,"y":0.701},{"m":"Blade","s":"PC-NBV","x":13,"y":0.704},{"m":"Blade","s":"PC-NBV","x":14,"y":0.708},{"m":"Blade","s":"PC-NBV","x":15,"y":0.709},
{"m":"Blade","s":"SEE","x":0,"y":0.15},{"m":"Blade","s":"SEE","x":1,"y":0.285},{"m":"Blade","s":"SEE","x":2,"y":0.374},{"m":"Blade","s":"SEE","x":3,"y":0.417},{"m":"Blade","s":"SEE","x":4,"y":0.442},{"m":"Blade","s":"SEE","x":5,"y":0.459},{"m":"Blade","s":"SEE","x":6,"y":0.467},{"m":"Blade","s":"SEE","x":7,"y":0.476},{"m":"Blade","s":"SEE","x":8,"y":0.479},{"m":"Blade","s":"SEE","x":9,"y":0.484},{"m":"Blade","s":"SEE","x":10,"y":0.489},{"m":"Blade","s":"SEE","x":11,"y":0.493},{"m":"Blade","s":"SEE","x":12,"y":0.496},{"m":"Blade","s":"SEE","x":13,"y":0.498},{"m":"Blade","s":"SEE","x":14,"y":0.501},{"m":"Blade","s":"SEE","x":15,"y":0.505},
{"m":"Blade","s":"BENBV-Net","x":0,"y":0.16},{"m":"Blade","s":"BENBV-Net","x":1,"y":0.302},{"m":"Blade","s":"BENBV-Net","x":2,"y":0.417},{"m":"Blade","s":"BENBV-Net","x":3,"y":0.518},{"m":"Blade","s":"BENBV-Net","x":4,"y":0.586},{"m":"Blade","s":"BENBV-Net","x":5,"y":0.623},{"m":"Blade","s":"BENBV-Net","x":6,"y":0.647},{"m":"Blade","s":"BENBV-Net","x":7,"y":0.665},{"m":"Blade","s":"BENBV-Net","x":8,"y":0.684},{"m":"Blade","s":"BENBV-Net","x":9,"y":0.692},{"m":"Blade","s":"BENBV-Net","x":10,"y":0.696},{"m":"Blade","s":"BENBV-Net","x":11,"y":0.701},{"m":"Blade","s":"BENBV-Net","x":12,"y":0.704},{"m":"Blade","s":"BENBV-Net","x":13,"y":0.708},{"m":"Blade","s":"BENBV-Net","x":14,"y":0.709},{"m":"Blade","s":"BENBV-Net","x":15,"y":0.714},

{"m":"Armadillo","s":"BENBV","x":0,"y":0.219},{"m":"Armadillo","s":"BENBV","x":1,"y":0.408},{"m":"Armadillo","s":"BENBV","x":2,"y":0.569},{"m":"Armadillo","s":"BENBV","x":3,"y":0.725},{"m":"Armadillo","s":"BENBV","x":4,"y":0.858},{"m":"Armadillo","s":"BENBV","x":5,"y":0.937},{"m":"Armadillo","s":"BENBV","x":6,"y":0.971},{"m":"Armadillo","s":"BENBV","x":7,"y":0.986},{"m":"Armadillo","s":"BENBV","x":8,"y":0.993},{"m":"Armadillo","s":"BENBV","x":9,"y":0.997},{"m":"Armadillo","s":"BENBV","x":10,"y":0.998},{"m":"Armadillo","s":"BENBV","x":11,"y":0.998},{"m":"Armadillo","s":"BENBV","x":12,"y":0.998},{"m":"Armadillo","s":"BENBV","x":13,"y":0.998},{"m":"Armadillo","s":"BENBV","x":14,"y":0.998},{"m":"Armadillo","s":"BENBV","x":15,"y":0.998},
{"m":"Armadillo","s":"Random boundary","x":0,"y":0.21},{"m":"Armadillo","s":"Random boundary","x":1,"y":0.39},{"m":"Armadillo","s":"Random boundary","x":2,"y":0.505},{"m":"Armadillo","s":"Random boundary","x":3,"y":0.612},{"m":"Armadillo","s":"Random boundary","x":4,"y":0.702},{"m":"Armadillo","s":"Random boundary","x":5,"y":0.761},{"m":"Armadillo","s":"Random boundary","x":6,"y":0.81},{"m":"Armadillo","s":"Random boundary","x":7,"y":0.849},{"m":"Armadillo","s":"Random boundary","x":8,"y":0.888},{"m":"Armadillo","s":"Random boundary","x":9,"y":0.917},{"m":"Armadillo","s":"Random boundary","x":10,"y":0.942},{"m":"Armadillo","s":"Random boundary","x":11,"y":0.959},{"m":"Armadillo","s":"Random boundary","x":12,"y":0.971},{"m":"Armadillo","s":"Random boundary","x":13,"y":0.98},{"m":"Armadillo","s":"Random boundary","x":14,"y":0.983},{"m":"Armadillo","s":"Random boundary","x":15,"y":0.986},
{"m":"Armadillo","s":"Random sphere","x":0,"y":0.19},{"m":"Armadillo","s":"Random sphere","x":1,"y":0.302},{"m":"Armadillo","s":"Random sphere","x":2,"y":0.414},{"m":"Armadillo","s":"Random sphere","x":3,"y":0.514},{"m":"Armadillo","s":"Random sphere","x":4,"y":0.598},{"m":"Armadillo","s":"Random sphere","x":5,"y":0.661},{"m":"Armadillo","s":"Random sphere","x":6,"y":0.708},{"m":"Armadillo","s":"Random sphere","x":7,"y":0.754},{"m":"Armadillo","s":"Random sphere","x":8,"y":0.793},{"m":"Armadillo","s":"Random sphere","x":9,"y":0.824},{"m":"Armadillo","s":"Random sphere","x":10,"y":0.846},{"m":"Armadillo","s":"Random sphere","x":11,"y":0.864},{"m":"Armadillo","s":"Random sphere","x":12,"y":0.883},{"m":"Armadillo","s":"Random sphere","x":13,"y":0.897},{"m":"Armadillo","s":"Random sphere","x":14,"y":0.908},{"m":"Armadillo","s":"Random sphere","x":15,"y":0.919},
{"m":"Armadillo","s":"Random U- sphere","x":0,"y":0.153},{"m":"Armadillo","s":"Random U- sphere","x":1,"y":0.247},{"m":"Armadillo","s":"Random U- sphere","x":2,"y":0.358},{"m":"Armadillo","s":"Random U- sphere","x":3,"y":0.446},{"m":"Armadillo","s":"Random U- sphere","x":4,"y":0.527},{"m":"Armadillo","s":"Random U- sphere","x":5,"y":0.59},{"m":"Armadillo","s":"Random U- sphere","x":6,"y":0.651},{"m":"Armadillo","s":"Random U- sphere","x":7,"y":0.705},{"m":"Armadillo","s":"Random U- sphere","x":8,"y":0.749},{"m":"Armadillo","s":"Random U- sphere","x":9,"y":0.783},{"m":"Armadillo","s":"Random U- sphere","x":10,"y":0.807},{"m":"Armadillo","s":"Random U- sphere","x":11,"y":0.836},{"m":"Armadillo","s":"Random U- sphere","x":12,"y":0.858},{"m":"Armadillo","s":"Random U- sphere","x":13,"y":0.878},{"m":"Armadillo","s":"Random U- sphere","x":14,"y":0.892},{"m":"Armadillo","s":"Random U- sphere","x":15,"y":0.903},
{"m":"Armadillo","s":"PC-NBV","x":0,"y":0.219},{"m":"Armadillo","s":"PC-NBV","x":1,"y":0.38},{"m":"Armadillo","s":"PC-NBV","x":2,"y":0.536},{"m":"Armadillo","s":"PC-NBV","x":3,"y":0.668},{"m":"Armadillo","s":"PC-NBV","x":4,"y":0.776},{"m":"Armadillo","s":"PC-NBV","x":5,"y":0.855},{"m":"Armadillo","s":"PC-NBV","x":6,"y":0.895},{"m":"Armadillo","s":"PC-NBV","x":7,"y":0.92},{"m":"Armadillo","s":"PC-NBV","x":8,"y":0.937},{"m":"Armadillo","s":"PC-NBV","x":9,"y":0.951},{"m":"Armadillo","s":"PC-NBV","x":10,"y":0.963},{"m":"Armadillo","s":"PC-NBV","x":11,"y":0.971},{"m":"Armadillo","s":"PC-NBV","x":12,"y":0.976},{"m":"Armadillo","s":"PC-NBV","x":13,"y":0.98},{"m":"Armadillo","s":"PC-NBV","x":14,"y":0.981},{"m":"Armadillo","s":"PC-NBV","x":15,"y":0.983},
{"m":"Armadillo","s":"SEE","x":0,"y":0.219},{"m":"Armadillo","s":"SEE","x":1,"y":0.431},{"m":"Armadillo","s":"SEE","x":2,"y":0.598},{"m":"Armadillo","s":"SEE","x":3,"y":0.714},{"m":"Armadillo","s":"SEE","x":4,"y":0.773},{"m":"Armadillo","s":"SEE","x":5,"y":0.815},{"m":"Armadillo","s":"SEE","x":6,"y":0.844},{"m":"Armadillo","s":"SEE","x":7,"y":0.861},{"m":"Armadillo","s":"SEE","x":8,"y":0.871},{"m":"Armadillo","s":"SEE","x":9,"y":0.883},{"m":"Armadillo","s":"SEE","x":10,"y":0.888},{"m":"Armadillo","s":"SEE","x":11,"y":0.892},{"m":"Armadillo","s":"SEE","x":12,"y":0.895},{"m":"Armadillo","s":"SEE","x":13,"y":0.898},{"m":"Armadillo","s":"SEE","x":14,"y":0.902},{"m":"Armadillo","s":"SEE","x":15,"y":0.903},
{"m":"Armadillo","s":"BENBV-Net","x":0,"y":0.219},{"m":"Armadillo","s":"BENBV-Net","x":1,"y":0.4},{"m":"Armadillo","s":"BENBV-Net","x":2,"y":0.561},{"m":"Armadillo","s":"BENBV-Net","x":3,"y":0.683},{"m":"Armadillo","s":"BENBV-Net","x":4,"y":0.793},{"m":"Armadillo","s":"BENBV-Net","x":5,"y":0.864},{"m":"Armadillo","s":"BENBV-Net","x":6,"y":0.908},{"m":"Armadillo","s":"BENBV-Net","x":7,"y":0.937},{"m":"Armadillo","s":"BENBV-Net","x":8,"y":0.953},{"m":"Armadillo","s":"BENBV-Net","x":9,"y":0.961},{"m":"Armadillo","s":"BENBV-Net","x":10,"y":0.97},{"m":"Armadillo","s":"BENBV-Net","x":11,"y":0.975},{"m":"Armadillo","s":"BENBV-Net","x":12,"y":0.98},{"m":"Armadillo","s":"BENBV-Net","x":13,"y":0.983},{"m":"Armadillo","s":"BENBV-Net","x":14,"y":0.985},{"m":"Armadillo","s":"BENBV-Net","x":15,"y":0.986},

{"m":"Happybuddha","s":"BENBV","x":0,"y":0.222},{"m":"Happybuddha","s":"BENBV","x":1,"y":0.375},{"m":"Happybuddha","s":"BENBV","x":2,"y":0.502},{"m":"Happybuddha","s":"BENBV","x":3,"y":0.632},{"m":"Happybuddha","s":"BENBV","x":4,"y":0.756},{"m":"Happybuddha","s":"BENBV","x":5,"y":0.849},{"m":"Happybuddha","s":"BENBV","x":6,"y":0.895},{"m":"Happybuddha","s":"BENBV","x":7,"y":0.929},{"m":"Happybuddha","s":"BENBV","x":8,"y":0.947},{"m":"Happybuddha","s":"BENBV","x":9,"y":0.956},{"m":"Happybuddha","s":"BENBV","x":10,"y":0.963},{"m":"Happybuddha","s":"BENBV","x":11,"y":0.968},{"m":"Happybuddha","s":"BENBV","x":12,"y":0.971},{"m":"Happybuddha","s":"BENBV","x":13,"y":0.973},{"m":"Happybuddha","s":"BENBV","x":14,"y":0.975},{"m":"Happybuddha","s":"BENBV","x":15,"y":0.976},
{"m":"Happybuddha","s":"Random boundary","x":0,"y":0.21},{"m":"Happybuddha","s":"Random boundary","x":1,"y":0.366},{"m":"Happybuddha","s":"Random boundary","x":2,"y":0.481},{"m":"Happybuddha","s":"Random boundary","x":3,"y":0.586},{"m":"Happybuddha","s":"Random boundary","x":4,"y":0.666},{"m":"Happybuddha","s":"Random boundary","x":5,"y":0.734},{"m":"Happybuddha","s":"Random boundary","x":6,"y":0.79},{"m":"Happybuddha","s":"Random boundary","x":7,"y":0.832},{"m":"Happybuddha","s":"Random boundary","x":8,"y":0.866},{"m":"Happybuddha","s":"Random boundary","x":9,"y":0.888},{"m":"Happybuddha","s":"Random boundary","x":10,"y":0.903},{"m":"Happybuddha","s":"Random boundary","x":11,"y":0.917},{"m":"Happybuddha","s":"Random boundary","x":12,"y":0.927},{"m":"Happybuddha","s":"Random boundary","x":13,"y":0.934},{"m":"Happybuddha","s":"Random boundary","x":14,"y":0.939},{"m":"Happybuddha","s":"Random boundary","x":15,"y":0.946},
{"m":"Happybuddha","s":"Random sphere","x":0,"y":0.2},{"m":"Happybuddha","s":"Random sphere","x":1,"y":0.324},{"m":"Happybuddha","s":"Random sphere","x":2,"y":0.434},{"m":"Happybuddha","s":"Random sphere","x":3,"y":0.524},{"m":"Happybuddha","s":"Random sphere","x":4,"y":0.6},{"m":"Happybuddha","s":"Random sphere","x":5,"y":0.663},{"m":"Happybuddha","s":"Random sphere","x":6,"y":0.714},{"m":"Happybuddha","s":"Random sphere","x":7,"y":0.753},{"m":"Happybuddha","s":"Random sphere","x":8,"y":0.785},{"m":"Happybuddha","s":"Random sphere","x":9,"y":0.81},{"m":"Happybuddha","s":"Random sphere","x":10,"y":0.831},{"m":"Happybuddha","s":"Random sphere","x":11,"y":0.847},{"m":"Happybuddha","s":"Random sphere","x":12,"y":0.861},{"m":"Happybuddha","s":"Random sphere","x":13,"y":0.875},{"m":"Happybuddha","s":"Random sphere","x":14,"y":0.883},{"m":"Happybuddha","s":"Random sphere","x":15,"y":0.892},
{"m":"Happybuddha","s":"Random U- sphere","x":0,"y":0.17},{"m":"Happybuddha","s":"Random U- sphere","x":1,"y":0.269},{"m":"Happybuddha","s":"Random U- sphere","x":2,"y":0.383},{"m":"Happybuddha","s":"Random U- sphere","x":3,"y":0.48},{"m":"Happybuddha","s":"Random U- sphere","x":4,"y":0.553},{"m":"Happybuddha","s":"Random U- sphere","x":5,"y":0.607},{"m":"Happybuddha","s":"Random U- sphere","x":6,"y":0.659},{"m":"Happybuddha","s":"Random U- sphere","x":7,"y":0.702},{"m":"Happybuddha","s":"Random U- sphere","x":8,"y":0.734},{"m":"Happybuddha","s":"Random U- sphere","x":9,"y":0.764},{"m":"Happybuddha","s":"Random U- sphere","x":10,"y":0.79},{"m":"Happybuddha","s":"Random U- sphere","x":11,"y":0.814},{"m":"Happybuddha","s":"Random U- sphere","x":12,"y":0.832},{"m":"Happybuddha","s":"Random U- sphere","x":13,"y":0.847},{"m":"Happybuddha","s":"Random U- sphere","x":14,"y":0.858},{"m":"Happybuddha","s":"Random U- sphere","x":15,"y":0.864},
{"m":"Happybuddha","s":"PC-NBV","x":0,"y":0.222},{"m":"Happybuddha","s":"PC-NBV","x":1,"y":0.392},{"m":"Happybuddha","s":"PC-NBV","x":2,"y":0.573},{"m":"Happybuddha","s":"PC-NBV","x":3,"y":0.683},{"m":"Happybuddha","s":"PC-NBV","x":4,"y":0.761},{"m":"Happybuddha","s":"PC-NBV","x":5,"y":0.819},{"m":"Happybuddha","s":"PC-NBV","x":6,"y":0.854},{"m":"Happybuddha","s":"PC-NBV","x":7,"y":0.88},{"m":"Happybuddha","s":"PC-NBV","x":8,"y":0.897},{"m":"Happybuddha","s":"PC-NBV","x":9,"y":0.905},{"m":"Happybuddha","s":"PC-NBV","x":10,"y":0.914},{"m":"Happybuddha","s":"PC-NBV","x":11,"y":0.92},{"m":"Happybuddha","s":"PC-NBV","x":12,"y":0.925},{"m":"Happybuddha","s":"PC-NBV","x":13,"y":0.929},{"m":"Happybuddha","s":"PC-NBV","x":14,"y":0.931},{"m":"Happybuddha","s":"PC-NBV","x":15,"y":0.932},
{"m":"Happybuddha","s":"SEE","x":0,"y":0.222},{"m":"Happybuddha","s":"SEE","x":1,"y":0.408},{"m":"Happybuddha","s":"SEE","x":2,"y":0.536},{"m":"Happybuddha","s":"SEE","x":3,"y":0.607},{"m":"Happybuddha","s":"SEE","x":4,"y":0.632},{"m":"Happybuddha","s":"SEE","x":5,"y":0.649},{"m":"Happybuddha","s":"SEE","x":6,"y":0.658},{"m":"Happybuddha","s":"SEE","x":7,"y":0.659},{"m":"Happybuddha","s":"SEE","x":8,"y":0.663},{"m":"Happybuddha","s":"SEE","x":9,"y":0.671},{"m":"Happybuddha","s":"SEE","x":10,"y":0.673},{"m":"Happybuddha","s":"SEE","x":11,"y":0.675},{"m":"Happybuddha","s":"SEE","x":12,"y":0.675},{"m":"Happybuddha","s":"SEE","x":13,"y":0.675},{"m":"Happybuddha","s":"SEE","x":14,"y":0.675},{"m":"Happybuddha","s":"SEE","x":15,"y":0.675},
{"m":"Happybuddha","s":"BENBV-Net","x":0,"y":0.222},{"m":"Happybuddha","s":"BENBV-Net","x":1,"y":0.42},{"m":"Happybuddha","s":"BENBV-Net","x":2,"y":0.608},{"m":"Happybuddha","s":"BENBV-Net","x":3,"y":0.746},{"m":"Happybuddha","s":"BENBV-Net","x":4,"y":0.827},{"m":"Happybuddha","s":"BENBV-Net","x":5,"y":0.875},{"m":"Happybuddha","s":"BENBV-Net","x":6,"y":0.897},{"m":"Happybuddha","s":"BENBV-Net","x":7,"y":0.914},{"m":"Happybuddha","s":"BENBV-Net","x":8,"y":0.925},{"m":"Happybuddha","s":"BENBV-Net","x":9,"y":0.932},{"m":"Happybuddha","s":"BENBV-Net","x":10,"y":0.936},{"m":"Happybuddha","s":"BENBV-Net","x":11,"y":0.941},{"m":"Happybuddha","s":"BENBV-Net","x":12,"y":0.944},{"m":"Happybuddha","s":"BENBV-Net","x":13,"y":0.946},{"m":"Happybuddha","s":"BENBV-Net","x":14,"y":0.949},{"m":"Happybuddha","s":"BENBV-Net","x":15,"y":0.953}
]},
"data": {"name": "d"},
"concat": [
{"title": "Dragon", "width": 272, "height": 162, "transform": [{"filter": "datum.m === 'Dragon'"}],
 "encoding": {"x": {"field": "x", "type": "quantitative", "scale": {"domain": [-1, 16], "nice": false, "zero": false}, "axis": {"values": [0,3,6,9,12,15], "labels": false, "title": null}},
  "y": {"field": "y", "type": "quantitative", "scale": {"domain": [0.2, 1.02], "nice": false, "zero": false}, "axis": {"values": [0.2,0.3,0.4,0.5,0.6,0.7,0.8,0.9,1.0], "format": ".1f", "title": "Mean Coverage"}},
  "color": {"field": "s", "type": "nominal", "scale": {"domain": ["BENBV","Random boundary","Random sphere","Random U- sphere","PC-NBV","SEE","BENBV-Net"], "range": ["#440154","#443983","#31688e","#21918c","#35b779","#90d743","#fde725"]},
   "legend": {"orient": "none", "legendX": 103, "legendY": 246, "title": null, "symbolType": "M-3.3,0H3.3M0.95,0A0.95,0.95,0,1,1,-0.95,0A0.95,0.95,0,1,1,0.95,0Z", "symbolSize": 100, "symbolStrokeWidth": 2, "symbolOffset": 140.5, "labelAlign": "right", "labelOffset": -37, "labelFont": "Liberation Serif", "labelFontSize": 15.5, "labelColor": "#111", "labelLimit": 300, "rowPadding": 0, "padding": 5, "fillColor": "white", "strokeColor": "#e6e6e6", "cornerRadius": 3,
     "encode": {"symbols": {"update": {"fill": {"scale": "color", "field": "value"}, "stroke": {"scale": "color", "field": "value"}, "opacity": {"value": 1}}}}}}},
 "layer": [{"mark": {"type": "line", "strokeWidth": 2, "clip": true}}, {"mark": {"type": "point", "filled": true, "size": 64, "opacity": 1, "clip": true}}]},
{"title": "Teapot", "width": 272, "height": 162, "transform": [{"filter": "datum.m === 'Teapot'"}],
 "encoding": {"x": {"field": "x", "type": "quantitative", "scale": {"domain": [-1, 16], "nice": false, "zero": false}, "axis": {"values": [0,3,6,9,12,15], "labels": false, "title": null}},
  "y": {"field": "y", "type": "quantitative", "scale": {"domain": [0.2, 1.02], "nice": false, "zero": false}, "axis": {"values": [0.2,0.3,0.4,0.5,0.6,0.7,0.8,0.9,1.0], "labels": false, "title": null}},
  "color": {"field": "s", "type": "nominal"}},
 "layer": [{"mark": {"type": "line", "strokeWidth": 2, "clip": true}}, {"mark": {"type": "point", "filled": true, "size": 64, "opacity": 1, "clip": true}}]},
{"title": "Horse", "width": 272, "height": 162, "transform": [{"filter": "datum.m === 'Horse'"}],
 "encoding": {"x": {"field": "x", "type": "quantitative", "scale": {"domain": [-1, 16], "nice": false, "zero": false}, "axis": {"values": [0,3,6,9,12,15], "labels": false, "title": null}},
  "y": {"field": "y", "type": "quantitative", "scale": {"domain": [0.2, 1.02], "nice": false, "zero": false}, "axis": {"values": [0.2,0.3,0.4,0.5,0.6,0.7,0.8,0.9,1.0], "format": ".1f", "title": "Mean Coverage"}},
  "color": {"field": "s", "type": "nominal"}},
 "layer": [{"mark": {"type": "line", "strokeWidth": 2, "clip": true}}, {"mark": {"type": "point", "filled": true, "size": 64, "opacity": 1, "clip": true}}]},
{"title": "Statue of liberty", "width": 272, "height": 162, "transform": [{"filter": "datum.m === 'Statue of liberty'"}],
 "encoding": {"x": {"field": "x", "type": "quantitative", "scale": {"domain": [-1, 16], "nice": false, "zero": false}, "axis": {"values": [0,3,6,9,12,15], "labels": false, "title": null}},
  "y": {"field": "y", "type": "quantitative", "scale": {"domain": [0.2, 1.02], "nice": false, "zero": false}, "axis": {"values": [0.2,0.3,0.4,0.5,0.6,0.7,0.8,0.9,1.0], "labels": false, "title": null}},
  "color": {"field": "s", "type": "nominal"}},
 "layer": [{"mark": {"type": "line", "strokeWidth": 2, "clip": true}}, {"mark": {"type": "point", "filled": true, "size": 64, "opacity": 1, "clip": true}}]},
{"title": "Bunny", "width": 272, "height": 162, "transform": [{"filter": "datum.m === 'Bunny'"}],
 "encoding": {"x": {"field": "x", "type": "quantitative", "scale": {"domain": [-1, 16], "nice": false, "zero": false}, "axis": {"values": [0,3,6,9,12,15], "labels": false, "title": null}},
  "y": {"field": "y", "type": "quantitative", "scale": {"domain": [0.2, 1.02], "nice": false, "zero": false}, "axis": {"values": [0.2,0.3,0.4,0.5,0.6,0.7,0.8,0.9,1.0], "format": ".1f", "title": "Mean Coverage"}},
  "color": {"field": "s", "type": "nominal"}},
 "layer": [{"mark": {"type": "line", "strokeWidth": 2, "clip": true}}, {"mark": {"type": "point", "filled": true, "size": 64, "opacity": 1, "clip": true}}]},
{"title": "Blade", "width": 272, "height": 162, "transform": [{"filter": "datum.m === 'Blade'"}],
 "encoding": {"x": {"field": "x", "type": "quantitative", "scale": {"domain": [-1, 16], "nice": false, "zero": false}, "axis": {"values": [0,3,6,9,12,15], "labels": false, "title": null}},
  "y": {"field": "y", "type": "quantitative", "scale": {"domain": [0.2, 1.02], "nice": false, "zero": false}, "axis": {"values": [0.2,0.3,0.4,0.5,0.6,0.7,0.8,0.9,1.0], "labels": false, "title": null}},
  "color": {"field": "s", "type": "nominal"}},
 "layer": [{"mark": {"type": "line", "strokeWidth": 2, "clip": true}}, {"mark": {"type": "point", "filled": true, "size": 64, "opacity": 1, "clip": true}}]},
{"title": "Armadillo", "width": 272, "height": 162, "transform": [{"filter": "datum.m === 'Armadillo'"}],
 "encoding": {"x": {"field": "x", "type": "quantitative", "scale": {"domain": [-1, 16], "nice": false, "zero": false}, "axis": {"values": [0,3,6,9,12,15], "title": null}},
  "y": {"field": "y", "type": "quantitative", "scale": {"domain": [0.2, 1.02], "nice": false, "zero": false}, "axis": {"values": [0.2,0.3,0.4,0.5,0.6,0.7,0.8,0.9,1.0], "format": ".1f", "title": "Mean Coverage"}},
  "color": {"field": "s", "type": "nominal"}},
 "layer": [{"mark": {"type": "line", "strokeWidth": 2, "clip": true}}, {"mark": {"type": "point", "filled": true, "size": 64, "opacity": 1, "clip": true}}]},
{"title": "Happybuddha", "width": 272, "height": 162, "transform": [{"filter": "datum.m === 'Happybuddha'"}],
 "encoding": {"x": {"field": "x", "type": "quantitative", "scale": {"domain": [-1, 16], "nice": false, "zero": false}, "axis": {"values": [0,3,6,9,12,15], "title": null}},
  "y": {"field": "y", "type": "quantitative", "scale": {"domain": [0.2, 1.02], "nice": false, "zero": false}, "axis": {"values": [0.2,0.3,0.4,0.5,0.6,0.7,0.8,0.9,1.0], "labels": false, "title": null}},
  "color": {"field": "s", "type": "nominal"}},
 "layer": [{"mark": {"type": "line", "strokeWidth": 2, "clip": true}}, {"mark": {"type": "point", "filled": true, "size": 64, "opacity": 1, "clip": true}}]}
],
"config": {
 "font": "Liberation Serif",
 "view": {"stroke": null},
 "axis": {"domainColor": "#222", "domainWidth": 1.2, "tickColor": "#222", "tickWidth": 1.2, "tickSize": 4, "labelFont": "Liberation Serif", "labelFontSize": 16, "labelColor": "#111", "titleFont": "Liberation Serif", "titleFontSize": 19.5, "titleFontWeight": "normal", "titleColor": "#111", "labelPadding": 4, "labelFlush": false, "labelOverlap": false},
 "axisY": {"grid": true, "gridColor": "#d9d9d9", "gridDash": [5, 3], "gridWidth": 0.8, "titlePadding": 6},
 "axisX": {"grid": false, "labelPadding": 8},
 "title": {"font": "Liberation Serif", "fontSize": 19.5, "fontWeight": "normal", "color": "#111", "offset": -2.5, "frame": "group"}
}
}
